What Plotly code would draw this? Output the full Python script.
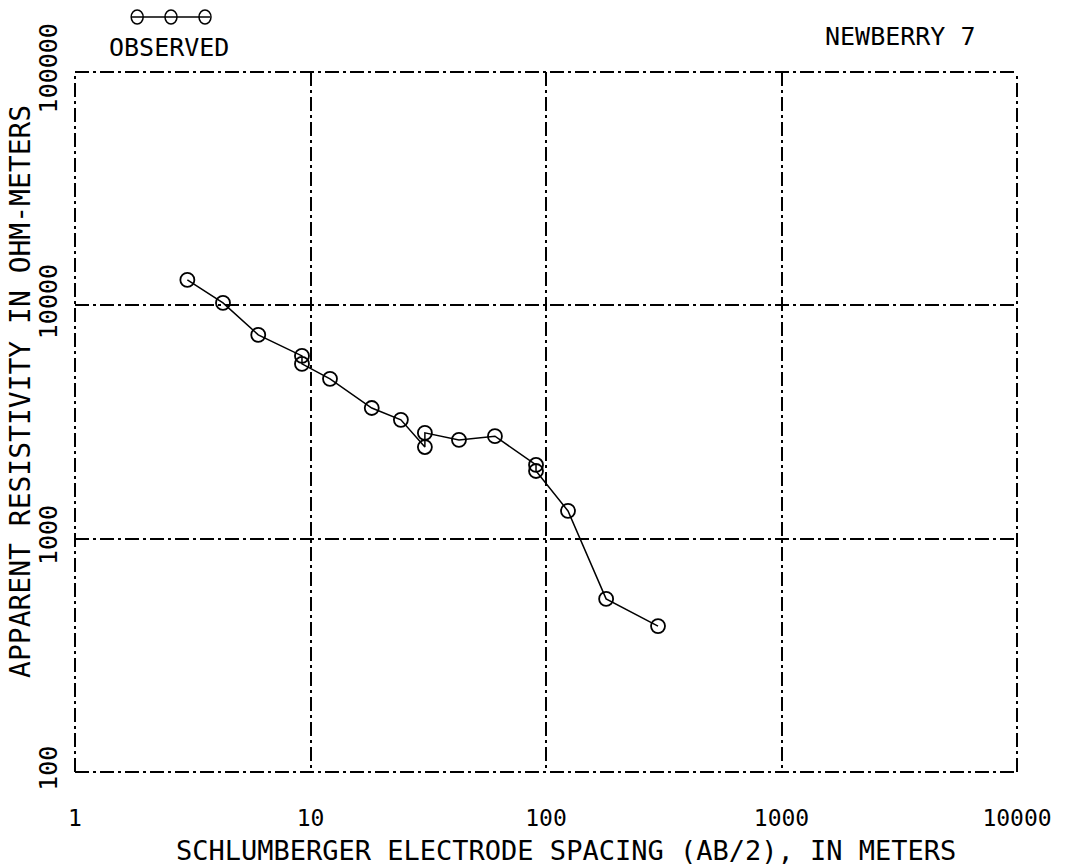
import plotly.graph_objects as go

# Observed apparent resistivity sounding (Newberry 7)
spacing_m = [3.0, 4.25, 6.0, 9.2, 9.2, 12.1, 18.2, 24.2, 30.6, 30.6, 42.7, 60.7, 90.7, 90.7, 124, 180, 299]
resistivity_ohm_m = [12850, 10240, 7470, 6070, 5610, 4840, 3630, 3230, 2470, 2840, 2650, 2750, 2070, 1950, 1315, 552, 422]

x_ticks = [1, 10, 100, 1000, 10000]
x_ticklabels = ["1", "10", "100", "1000", "10000"]
y_ticks = [100, 1000, 10000, 100000]
y_ticklabels = ["100", "1000", "10000", "100000"]

FONT = "DejaVu Sans Mono"
DASH = "14px,4px,3px,4px"

fig = go.Figure()
fig.add_trace(go.Scatter(
    x=spacing_m, y=resistivity_ohm_m, mode="lines+markers",
    line=dict(color="black", width=1.5),
    marker=dict(symbol="circle-open", size=14, color="black", line=dict(width=1.8)),
    showlegend=False,
))

fig.update_layout(
    width=1072, height=867,
    margin=dict(l=75, r=55, t=72, b=95),
    paper_bgcolor="white", plot_bgcolor="white",
    font=dict(family=FONT, color="black", size=22),
    xaxis=dict(
        type="log", range=[0, 4], tickvals=x_ticks, ticktext=x_ticklabels,
        showgrid=True, gridcolor="black", gridwidth=2, griddash=DASH,
        ticks="outside", ticklen=25, tickcolor="rgba(0,0,0,0)",
        tickfont=dict(size=23), zeroline=False, showline=False, automargin=False,
    ),
    yaxis=dict(
        type="log", range=[2, 5], tickvals=y_ticks, ticktext=y_ticklabels,
        showgrid=True, gridcolor="black", gridwidth=2, griddash=DASH,
        ticks="outside", ticklen=7, tickcolor="rgba(0,0,0,0)", tickangle=-90,
        tickfont=dict(size=25), zeroline=False, showline=False, automargin=False,
    ),
)

# axis titles
fig.add_annotation(text="SCHLUMBERGER ELECTRODE SPACING (AB/2), IN METERS", xref="paper", yref="paper",
                   x=0.521, y=-0.1115, showarrow=False, font=dict(size=27, family=FONT),
                   xanchor="center", yanchor="middle")
fig.add_annotation(text="APPARENT RESISTIVITY IN OHM-METERS", xref="paper", yref="paper",
                   x=-0.0573, y=0.543, showarrow=False, textangle=-90, font=dict(size=28, family=FONT),
                   xanchor="center", yanchor="middle")

# plot frame
for (x0, y0, x1, y1) in [(0, 0, 1, 0), (0, 1, 1, 1), (0, 0, 0, 1), (1, 0, 1, 1)]:
    fig.add_shape(type="line", xref="paper", yref="paper", x0=x0, y0=y0, x1=x1, y1=y1,
                  line=dict(color="black", width=2, dash=DASH))

# legend sample: line with three open circles
ly = 1.0786
fig.add_shape(type="line", xref="paper", yref="paper", x0=0.0605, x1=0.1433, y0=ly, y1=ly,
              line=dict(color="black", width=1.5))
for cx in [0.066, 0.1019, 0.1380]:
    fig.add_shape(type="circle", xref="paper", yref="paper", xsizemode="pixel", ysizemode="pixel",
                  xanchor=cx, yanchor=ly, x0=-6, x1=6, y0=-7, y1=7,
                  line=dict(color="black", width=1.5), fillcolor="rgba(0,0,0,0)")

fig.add_annotation(text="OBSERVED", xref="paper", yref="paper", x=0.0998, y=1.0357,
                   showarrow=False, font=dict(size=25, family=FONT), xanchor="center", yanchor="middle")
fig.add_annotation(text="NEWBERRY 7", xref="paper", yref="paper", x=0.876, y=1.0514,
                   showarrow=False, font=dict(size=25, family=FONT), xanchor="center", yanchor="middle")

fig.write_html("out.html")
